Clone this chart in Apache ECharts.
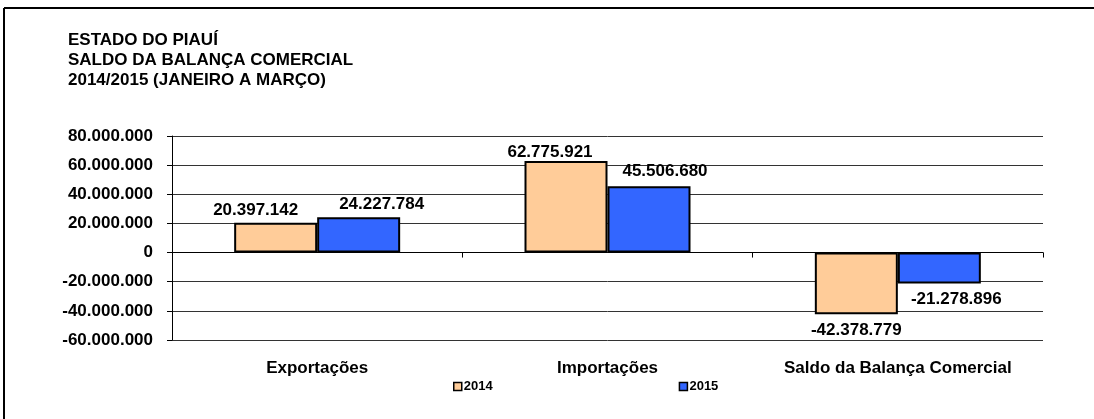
<!DOCTYPE html>
<html>
<head>
<meta charset="utf-8">
<script src="https://cdn.jsdelivr.net/npm/echarts@6/dist/echarts.min.js"></script>
<style>
html,body{margin:0;padding:0;background:#fff;}
#c{width:1094px;height:419px;}
</style>
</head>
<body>
<div id="c"></div>
<script>
const categories = ['Exportações', 'Importações', 'Saldo da Balança Comercial'];
const seriesNames = ['2014', '2015'];
const values2014 = [20397142, 62775921, -42378779];
const values2015 = [24227784, 45506680, -21278896];
const titleLines = ['ESTADO DO PIAUÍ', 'SALDO DA BALANÇA COMERCIAL', '2014/2015 (JANEIRO A MARÇO)'];
const yMin = -60000000, yMax = 80000000, yStep = 20000000;

function fmt(v) {
  const s = Math.abs(Math.round(v)).toString().replace(/\B(?=(\d{3})+(?!\d))/g, '.');
  return (v < 0 ? '-' : '') + s;
}

const FONT = '"Liberation Sans", Arial, sans-serif';
const colors = ['#FFCC99', '#3366FF'];
// label offsets per series [dx, dy] (styling only)
const labelOffsets = [
  [[-20, 0], [-16, 4], [0, 0]],
  [[23, 0], [16, -2], [17, 0]]
];

function buildData(vals, si) {
  return vals.map((v, i) => ({
    value: v,
    label: {
      position: v >= 0 ? 'top' : 'bottom',
      distance: v >= 0 ? 4 : 7,
      offset: labelOffsets[si][i]
    }
  }));
}

const chart = echarts.init(document.getElementById('c'), null, {renderer: 'canvas'});
chart.setOption({
  animation: false,
  backgroundColor: '#fff',
  textStyle: {fontFamily: FONT},
  title: {
    text: titleLines.join('\n'),
    left: 63, top: 25,
    textStyle: {fontFamily: FONT, fontSize: 17, fontWeight: 'bold', color: '#000', lineHeight: 20}
  },
  graphic: [{
    type: 'line',
    shape: {x1: 4, y1: 8, x2: 1094, y2: 8},
    style: {stroke: '#000', lineWidth: 2},
    silent: true
  }, {
    type: 'line',
    shape: {x1: 4, y1: 8, x2: 4, y2: 419},
    style: {stroke: '#000', lineWidth: 2},
    silent: true
  }],
  legend: {
    data: seriesNames,
    left: 448, top: 375,
    itemWidth: 8, itemHeight: 8, itemGap: 186,
    icon: 'rect',
    itemStyle: {borderColor: '#000', borderWidth: 1.5},
    textStyle: {fontFamily: FONT, fontSize: 13, fontWeight: 'bold', color: '#000', padding: [0, 0, 0, -3]}
  },
  grid: {left: 172, right: 51, top: 136, bottom: 79},
  xAxis: [{
    type: 'category',
    data: categories,
    axisLine: {onZero: true, lineStyle: {color: '#000', width: 1}},
    axisTick: {show: true, length: 5, lineStyle: {color: '#000'}},
    axisLabel: {show: false}
  }, {
    type: 'category',
    data: categories,
    position: 'bottom',
    axisLine: {show: false, onZero: false},
    axisTick: {show: false},
    axisLabel: {interval: 0, margin: 20, fontFamily: FONT, fontSize: 17, fontWeight: 'bold', color: '#000'}
  }],
  yAxis: {
    type: 'value',
    min: yMin, max: yMax, interval: yStep,
    axisLine: {show: true, lineStyle: {color: '#000', width: 1}},
    axisTick: {show: true, length: 5, lineStyle: {color: '#000'}},
    axisLabel: {margin: 19, fontFamily: FONT, fontSize: 17, fontWeight: 'bold', color: '#000', formatter: fmt},
    splitLine: {show: true, lineStyle: {color: '#333', width: 1}}
  },
  series: [values2014, values2015].map((vals, si) => ({
    name: seriesNames[si],
    type: 'bar',
    xAxisIndex: 0,
    data: buildData(vals, si),
    barWidth: 83,
    barGap: '0%',
    itemStyle: {color: colors[si], borderColor: '#000', borderWidth: 2},
    label: {
      show: true,
      fontFamily: FONT, fontSize: 17, fontWeight: 'bold', color: '#000',
      formatter: p => fmt(p.value)
    }
  }))
});
</script>
</body>
</html>
